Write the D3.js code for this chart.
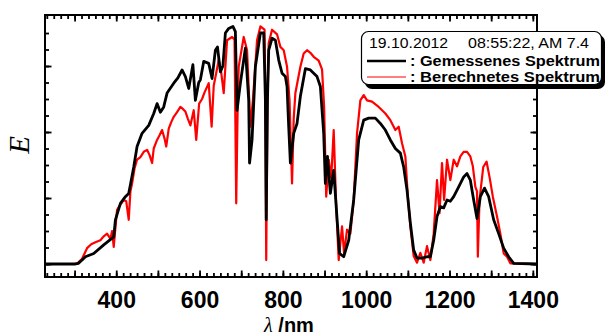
<!DOCTYPE html>
<html>
<head>
<meta charset="utf-8">
<script src="https://cdn.jsdelivr.net/npm/d3@7"></script>
<style>
  body { margin: 0; background: #fff; }
  svg { display: block; }
</style>
</head>
<body>
<svg id="chart" width="606" height="336"></svg>
<script>
// measured spectrum (black)
const measuredNm = [230,300,309,318,326,346,370,394,398,410,422,430,434,442,450,462,478,490,498,506,514,522,538,548,558,566,574,584,590,598,602,610,622,630,638,643,650,656,662,670,680,686,690,698,710,718,720,726,734,746,754,758,760,763,766,774,782,790,798,806,810,814,818,826,834,842,854,866,874,882,890,898,902,907,914,922,928,936,946,958,970,982,994,1006,1022,1034,1046,1058,1070,1082,1090,1098,1106,1114,1122,1134,1146,1154,1162,1170,1178,1186,1194,1202,1210,1222,1234,1242,1250,1258,1266,1274,1284,1294,1306,1318,1330,1342,1354,1410];
const measuredE = [0,0,0.01,0.06,0.11,0.16,0.29,0.41,0.67,0.92,1.02,1.07,1.2,1.47,1.78,1.98,2.1,2.28,2.43,2.3,2.38,2.59,2.74,2.82,2.94,2.84,2.66,3.02,2.48,2.75,2.79,3.07,3.04,2.81,3.24,3.29,2.91,3.0,3.5,3.57,3.6,3.52,2.33,2.74,3.27,2.48,1.53,1.88,2.99,3.5,3.5,2.5,0.67,2.5,3.24,3.42,3.39,3.09,2.89,2.84,2.69,2.08,1.53,1.98,2.13,2.54,2.96,2.94,2.89,2.84,2.69,1.98,1.22,1.63,1.07,1.42,0.87,0.16,0.11,0.36,0.97,1.88,2.18,2.21,2.21,2.13,2.03,1.88,1.75,1.68,1.47,1.12,0.62,0.21,0.09,0.09,0.11,0.11,0.36,0.72,0.87,0.85,0.97,0.95,1.02,1.17,1.32,1.37,1.27,0.97,0.69,1.02,1.15,1.02,0.67,0.46,0.24,0.11,0.01,0];

// computed spectrum (red)
const computedNm = [230,305,318,330,340,350,362,370,378,386,390,394,398,402,410,418,424,430,434,438,444,450,458,466,474,480,486,490,498,504,510,516,520,526,532,538,546,554,560,566,572,578,586,592,599,606,612,622,629,634,646,652,658,666,678,684,688,692,694,706,714,722,728,738,746,756,758,760,763,766,774,786,794,802,810,816,822,826,830,842,850,858,866,874,886,894,899,904,910,916,922,928,934,942,947,954,962,970,978,986,994,1002,1014,1030,1046,1058,1070,1078,1086,1094,1100,1106,1114,1122,1130,1138,1146,1154,1162,1170,1176,1182,1187,1194,1202,1210,1218,1226,1234,1242,1250,1256,1262,1266,1268,1272,1281,1289,1296,1304,1314,1322,1330,1338,1346,1410];
const computedE = [0,0,0.08,0.24,0.3,0.33,0.36,0.42,0.46,0.38,0.5,0.26,0.55,0.82,0.9,0.97,0.95,0.67,1.1,1.22,1.45,1.58,1.62,1.7,1.73,1.65,1.53,1.75,1.88,1.95,2.03,1.9,1.78,2.05,2.15,2.23,2.3,2.38,2.35,2.31,2.2,2.1,2.33,1.88,2.43,2.5,2.6,2.74,2.08,2.7,3.09,2.9,2.59,3.39,3.44,3.4,0.92,2.6,2.99,3.44,3.24,2.08,2.48,3.39,3.6,3.55,2.5,0.06,2.4,3.35,3.55,3.48,3.29,3.24,2.99,2.48,1.22,2.2,2.59,2.99,3.19,3.24,3.2,3.14,3.08,2.95,2.38,1.02,1.58,1.3,2.03,0.87,0.06,0.57,0.16,0.52,0.46,0.97,1.98,2.48,2.56,2.48,2.46,2.38,2.28,2.18,2.03,2.08,1.83,1.63,1.02,0.57,0.12,0.02,0.17,0.02,0.27,0.06,0.46,1.27,0.77,1.53,0.97,1.58,1.27,1.58,1.48,1.63,1.7,1.7,1.63,1.48,1.17,1.1,0.11,0.97,1.47,1.55,1.32,1.02,0.72,0.46,0.16,0.11,0.01,0];

// axis ticks
const xLabelTicks = [400, 600, 800, 1000, 1200, 1400];
const xMajorTicks = [300, 400, 500, 600, 700, 800, 900, 1000, 1100, 1200, 1300, 1400];
const yMajorTicks = [0, 1, 2, 3];

const legendDate = "19.10.2012";
const legendTime = "08:55:22, AM 7.4";
const seriesNames = [": Gemessenes Spektrum", ": Berechnetes Spektrum"];

const svg = d3.select("#chart");
const mLeft = 45, mRight = 537, mTop = 15, mBottom = 277;

const x = d3.scaleLinear().domain([229, 1410]).range([mLeft, mRight]);
const y = d3.scaleLinear().domain([-0.197, 3.773]).range([mBottom, mTop]);

const step = 100 / 6;
const xMinorTicks = d3.range(-4, 67).map(i => 300 + i * step).filter(v => v > 230 && v < 1410);
const yMinorTicks = d3.range(0, 3.6, 0.25);

svg.append("clipPath").attr("id", "plotclip")
  .append("rect").attr("x", mLeft).attr("y", mTop).attr("width", mRight - mLeft).attr("height", mBottom - mTop);

const line = d3.line().x(d => x(d[0])).y(d => y(d[1]));

const plot = svg.append("g").attr("clip-path", "url(#plotclip)");
plot.append("path")
  .datum(d3.zip(computedNm, computedE))
  .attr("fill", "none").attr("stroke", "#ff0000").attr("stroke-width", 2.2)
  .attr("stroke-linejoin", "round")
  .attr("d", line);
plot.append("path")
  .datum(d3.zip(measuredNm, measuredE))
  .attr("fill", "none").attr("stroke", "#000").attr("stroke-width", 2.8)
  .attr("stroke-linejoin", "round")
  .attr("d", line);

// ticks on all four sides, pointing inward
function tickAxis(axisFn, scale, values, size, tx, ty) {
  const g = svg.append("g").attr("transform", `translate(${tx},${ty})`)
    .call(axisFn(scale).tickValues(values).tickSizeInner(-size).tickSizeOuter(0).tickFormat(""));
  g.select(".domain").remove();
  g.selectAll("line").attr("stroke", "#000").attr("stroke-width", 1.8);
  return g;
}
tickAxis(d3.axisBottom, x, xMinorTicks, 4, 0, mBottom);
tickAxis(d3.axisBottom, x, xMajorTicks, 6.5, 0, mBottom);
tickAxis(d3.axisTop, x, xMinorTicks, 4, 0, mTop);
tickAxis(d3.axisTop, x, xMajorTicks, 6.5, 0, mTop);
tickAxis(d3.axisLeft, y, yMinorTicks, 4, mLeft, 0);
tickAxis(d3.axisLeft, y, yMajorTicks, 6.5, mLeft, 0);
tickAxis(d3.axisRight, y, yMinorTicks, 4, mRight, 0);
tickAxis(d3.axisRight, y, yMajorTicks, 6.5, mRight, 0);

svg.append("rect")
  .attr("x", mLeft).attr("y", mTop).attr("width", mRight - mLeft).attr("height", mBottom - mTop)
  .attr("fill", "none").attr("stroke", "#000").attr("stroke-width", 2);

// x tick labels
const xl = svg.append("g").attr("transform", `translate(0,${mBottom})`)
  .call(d3.axisBottom(x).tickValues(xLabelTicks).tickFormat(d3.format("d")).tickSize(0).tickPadding(0));
xl.select(".domain").remove();
xl.selectAll("text")
  .attr("dy", null).attr("y", 31)
  .attr("fill", "#000")
  .style("font-family", "Liberation Sans, Arial, sans-serif")
  .style("font-weight", "bold").style("font-size", "23px");

// axis titles
const xt = svg.append("text").attr("x", 289).attr("y", 332).attr("text-anchor", "middle")
  .style("font-family", "Liberation Sans, Arial, sans-serif").style("font-size", "20px").style("font-weight", "bold");
xt.append("tspan").text("λ").style("font-family", "Liberation Serif, Times New Roman, serif").style("font-weight", "normal").style("font-style", "italic");
xt.append("tspan").text(" /nm");

svg.append("text")
  .attr("transform", "translate(29,145) rotate(-90)")
  .attr("text-anchor", "middle")
  .style("font-family", "Liberation Serif, Times New Roman, serif")
  .style("font-style", "italic").style("font-size", "29px")
  .text("E");

// legend
const lg = svg.append("g");
lg.append("rect").attr("x", 365).attr("y", 35).attr("width", 240).attr("height", 54).attr("rx", 7)
  .attr("fill", "#000");
lg.append("rect").attr("x", 361.5).attr("y", 31.5).attr("width", 240).attr("height", 53).attr("rx", 7)
  .attr("fill", "#fff").attr("stroke", "#000").attr("stroke-width", 1.2);
const lf = "Liberation Sans, Arial, sans-serif";
lg.append("text").attr("x", 369).attr("y", 48).style("font-family", lf).style("font-size", "15px")
  .attr("textLength", 79).attr("lengthAdjust", "spacingAndGlyphs").text(legendDate);
lg.append("text").attr("x", 468).attr("y", 48).style("font-family", lf).style("font-size", "15px")
  .attr("textLength", 121).attr("lengthAdjust", "spacingAndGlyphs").text(legendTime);
const swatch = [{c: "#000", w: 2.6, yy: 61}, {c: "#ff0000", w: 1.2, yy: 77}];
seriesNames.forEach((name, i) => {
  lg.append("line").attr("x1", 367).attr("x2", 406).attr("y1", swatch[i].yy).attr("y2", swatch[i].yy)
    .attr("stroke", swatch[i].c).attr("stroke-width", swatch[i].w);
  lg.append("text").attr("x", 410).attr("y", swatch[i].yy + 4.5)
    .style("font-family", lf).style("font-size", "14px").style("font-weight", "bold")
    .attr("textLength", 190).attr("lengthAdjust", "spacingAndGlyphs")
    .text(name);
});
</script>
</body>
</html>
